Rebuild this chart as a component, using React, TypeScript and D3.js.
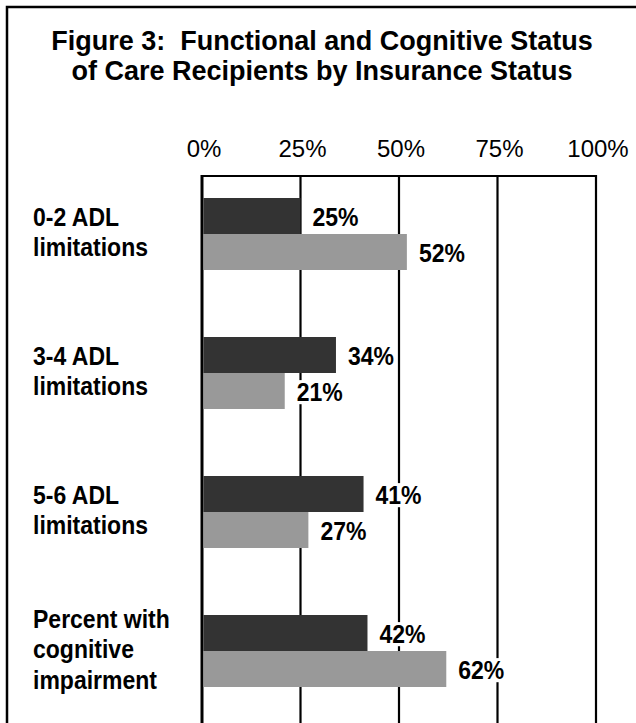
import { useEffect, useRef } from "react";
import * as d3 from "d3";

const categoryLines = [
  ["0-2 ADL", "limitations"],
  ["3-4 ADL", "limitations"],
  ["5-6 ADL", "limitations"],
  ["Percent with", "cognitive", "impairment"],
];
const categories = categoryLines.map((c) => c.join(" "));
const series1Values = [25, 34, 41, 42];
const series2Values = [52, 21, 27, 62];
const tickValues = [0, 25, 50, 75, 100];
const titleLines = [
  "Figure 3:  Functional and Cognitive Status",
  "of Care Recipients by Insurance Status",
];

const seriesColors = ["#333333", "#999999"];
const font = "'Liberation Sans', Arial, sans-serif";
// the labels in the scan are a narrow bold face, fake it with a squeeze
const squeeze = 0.92;

export const App = () => {
  const chartRef = useRef<HTMLDivElement>(null);
  const width = 636;
  const height = 723;

  useEffect(() => {
    // Remove any existing SVG element before creating a new one
    d3.select(chartRef.current).select("svg").remove();

    const svg = d3
      .select(chartRef.current)
      .append("svg")
      .attr("width", width)
      .attr("height", height)
      .style("position", "absolute")
      .style("left", "0px")
      .style("top", "0px")
      .style("background", "#fff");

    // outer frame, runs off the right and bottom edges like the scan
    svg
      .append("rect")
      .attr("x", 7)
      .attr("y", 7)
      .attr("width", width + 20)
      .attr("height", height + 20)
      .attr("fill", "none")
      .attr("stroke", "#000")
      .attr("stroke-width", 2.5);

    svg
      .append("g")
      .selectAll("text")
      .data(titleLines)
      .enter()
      .append("text")
      .attr("x", 322)
      .attr("y", (_, i) => 50 + i * 30)
      .attr("text-anchor", "middle")
      .attr("font-family", font)
      .attr("font-weight", "bold")
      .attr("font-size", 27)
      .style("white-space", "pre")
      .text((d) => d);

    const x = d3.scaleLinear().domain([0, 100]).range([202, 596]);
    const plotTop = 176;

    const y = d3
      .scaleBand<string>()
      .domain(categories)
      .range([198, 687])
      .paddingInner(0.482)
      .paddingOuter(0);

    const inner = d3
      .scaleBand<number>()
      .domain([0, 1])
      .range([0, y.bandwidth()]);

    // tick labels
    svg
      .append("g")
      .selectAll("text")
      .data(tickValues)
      .enter()
      .append("text")
      .attr("x", (d) => x(d) + 2)
      .attr("y", 157)
      .attr("text-anchor", "middle")
      .attr("font-family", font)
      .attr("font-size", 24)
      .text((d) => `${d}%`);

    // grid
    const grid = svg.append("g");
    grid
      .append("line")
      .attr("x1", x(0))
      .attr("x2", x(100))
      .attr("y1", plotTop)
      .attr("y2", plotTop)
      .attr("stroke", "#000")
      .attr("stroke-width", 2.2);
    grid
      .selectAll(".gl")
      .data(tickValues)
      .enter()
      .append("line")
      .attr("class", "gl")
      .attr("x1", (d) => x(d))
      .attr("x2", (d) => x(d))
      .attr("y1", plotTop - 1)
      .attr("y2", height + 5)
      .attr("stroke", "#000")
      .attr("stroke-width", (d) => (d === 0 ? 3 : 2.2));

    const rows = categories.map((c, i) => ({
      cat: c,
      lines: categoryLines[i],
      values: [series1Values[i], series2Values[i]],
    }));

    // category labels
    const labels = svg.append("g");
    rows.forEach((r) => {
      const cy = (y(r.cat) as number) + y.bandwidth() / 2;
      const first = cy - (r.lines.length - 1) * 15 + 7;
      labels
        .append("g")
        .attr("transform", `translate(33, ${first}) scale(${squeeze}, 1)`)
        .append("text")
        .attr("font-family", font)
        .attr("font-weight", "bold")
        .attr("font-size", 25)
        .selectAll("tspan")
        .data(r.lines)
        .enter()
        .append("tspan")
        .attr("x", 0)
        .attr("y", (_, i) => i * 30.5)
        .text((d) => d);
    });

    // bars
    const bars = svg.append("g");
    rows.forEach((r) => {
      r.values.forEach((v, s) => {
        const top = (y(r.cat) as number) + (inner(s) as number);
        bars
          .append("rect")
          .attr("x", x(0) + 1.5)
          .attr("y", top)
          .attr("width", x(v) - x(0) - 1.5)
          .attr("height", inner.bandwidth())
          .attr("fill", seriesColors[s]);
      });
    });

    // value labels with white backing
    const vals = svg.append("g");
    rows.forEach((r) => {
      r.values.forEach((v, s) => {
        const top = (y(r.cat) as number) + (inner(s) as number);
        const cy = top + inner.bandwidth() / 2;
        const g = vals
          .append("g")
          .attr("transform", `translate(${x(v) + 12}, ${cy + 10}) scale(${squeeze}, 1)`);
        const bg = g.append("rect").attr("fill", "#fff");
        const t = g
          .append("text")
          .attr("font-family", font)
          .attr("font-weight", "bold")
          .attr("font-size", 25)
          .text(`${v}%`);
        const bb = (t.node() as SVGTextElement).getBBox();
        bg.attr("x", bb.x - 3)
          .attr("y", bb.y + 2)
          .attr("width", bb.width + 6)
          .attr("height", bb.height - 4);
      });
    });
  }, []);

  return <div ref={chartRef} className="figure3Chart" />;
};

export default App;
